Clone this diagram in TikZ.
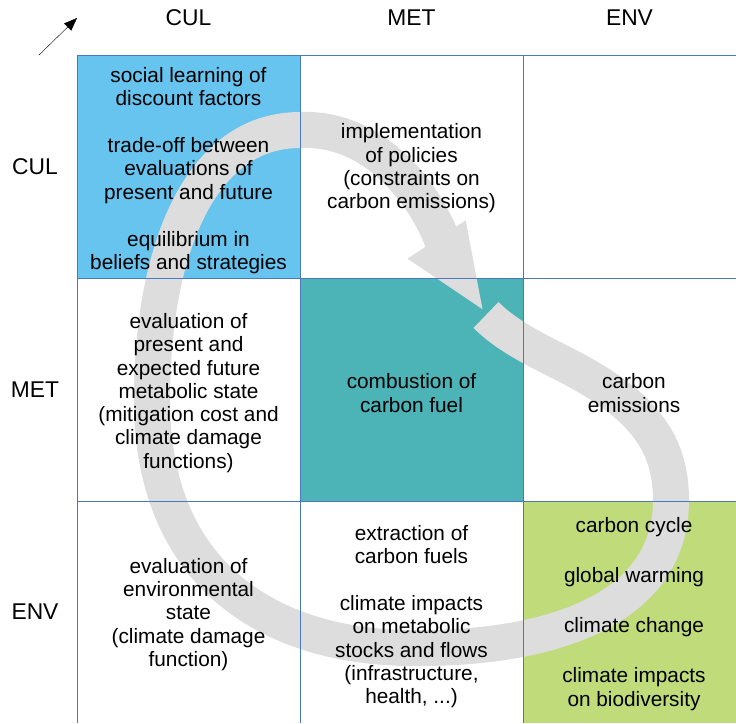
\documentclass[tikz,border=0pt]{standalone}
\usepackage{fontspec}
\setmainfont{Liberation Sans}
\usetikzlibrary{arrows.meta}
\definecolor{culblue}{HTML}{66C4EE}
\definecolor{metteal}{HTML}{4CB3B7}
\definecolor{envgreen}{HTML}{C0DB7A}
\definecolor{bandgray}{HTML}{DDDDDD}
\definecolor{gridblue}{HTML}{4A78C2}
\begin{document}
\begin{tikzpicture}[x=1pt,y=-1pt,
    celltext/.style={align=center,font=\fontsize{20.8}{23.3}\selectfont},
    head/.style={font=\fontsize{22.8}{26}\selectfont},
    gridline/.style={gridblue,line width=1pt},
    band/.style={bandgray,line width=36pt,-{Triangle[width=62pt,length=88pt]}}]
  \useasboundingbox (0,0) rectangle (736,723);
  \fill[culblue] (77,55) rectangle (300,278);
  \fill[metteal] (300,278) rectangle (523,501);
  \fill[envgreen] (523,501) rectangle (736,723);
  % loop
  \draw[band] (486,315) .. controls (505,334) and (530,347) .. (560,362)
    .. controls (640,402) and (671,440) .. (671,500)
    .. controls (671,615) and (540,648) .. (420,648)
    .. controls (270,650) and (152,575) .. (152,400)
    .. controls (152,250) and (200,130) .. (300,130)
    .. controls (410,125) and (458,272) .. (485,313);
  \draw[gridline] (77,723) -- (77,55) -- (736,55);
  \draw[gridline] (300,55) -- (300,723) (523,55) -- (523,723);
  \draw[gridline] (77,278) -- (736,278) (77,501) -- (736,501);
  \node[head] (hcul) at (188.5,18) {CUL};
  \node[head] (hmet) at (411.5,18) {MET};
  \node[head] (henv) at (629.5,18) {ENV};
  \node[head] (rcul) at (35,166.5) {CUL};
  \node[head] (rmet) at (35,389.5) {MET};
  \node[head] (renv) at (35,612) {ENV};
  \coordinate (c0) at (39,55);
  \coordinate (c1) at (77,18);
  \draw[-{Triangle[length=13pt,width=10pt]}] (c0) -- (c1);
  \node[celltext] (culcul) at (188.5,170.5) {social learning of\\discount factors\\[23.7pt]
    trade-off between\\evaluations of\\present and future\\[23.7pt]
    equilibrium in\\beliefs and strategies};
  \node[celltext] (metcul) at (411.5,168.5) {implementation\\of policies\\(constraints on\\carbon emissions)};
  \node[celltext] (culmet) at (188.5,393) {evaluation of\\present and\\expected future\\metabolic state\\
    (mitigation cost and\\climate damage\\functions)};
  \node[celltext] (metmet) at (411.5,393) {combustion of\\carbon fuel};
  \node[celltext] (envmet) at (634,393) {carbon\\emissions};
  \node[celltext] (culenv) at (188.5,614.5) {evaluation of\\environmental\\state\\(climate damage\\function)};
  \node[celltext] (metenv) at (411.5,616.5) {extraction of\\carbon fuels\\[23.7pt]
    climate impacts\\on metabolic\\stocks and flows\\(infrastructure,\\health, ...)};
  \node[celltext] (envenv) at (634,614) {carbon cycle\\[26.7pt]global warming\\[26.7pt]
    climate change\\[26.7pt]climate impacts\\on biodiversity};
\end{tikzpicture}
\end{document}
